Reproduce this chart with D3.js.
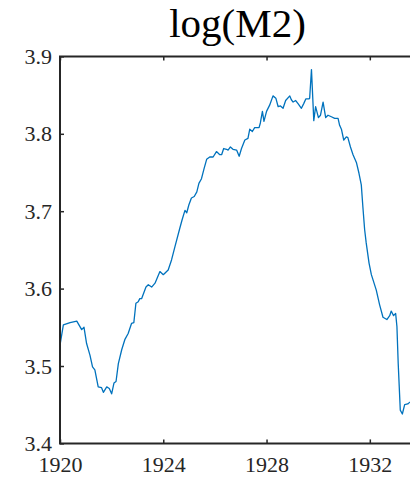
<!DOCTYPE html>
<html><head><meta charset="utf-8">
<script src="https://cdn.jsdelivr.net/npm/d3@7"></script>
<style>html,body{margin:0;padding:0;background:#fff;overflow:hidden}</style>
</head><body>
<svg id="c" width="410" height="487"></svg>
<script>
const years = [1920.00,1920.13,1920.39,1920.65,1920.84,1920.93,1921.03,1921.16,1921.26,1921.35,1921.48,1921.61,1921.68,1921.81,1921.91,1922.00,1922.09,1922.17,1922.26,1922.39,1922.51,1922.64,1922.77,1922.86,1922.94,1923.03,1923.09,1923.16,1923.33,1923.42,1923.55,1923.68,1923.87,1924.00,1924.19,1924.32,1924.45,1924.64,1924.73,1924.84,1924.91,1924.99,1925.09,1925.20,1925.30,1925.38,1925.48,1925.58,1925.68,1925.80,1925.93,1926.06,1926.19,1926.26,1926.34,1926.45,1926.51,1926.60,1926.70,1926.84,1926.94,1927.03,1927.16,1927.28,1927.35,1927.45,1927.54,1927.71,1927.76,1927.84,1927.90,1928.00,1928.12,1928.25,1928.36,1928.45,1928.54,1928.64,1928.74,1928.90,1928.96,1929.03,1929.13,1929.22,1929.35,1929.44,1929.52,1929.64,1929.67,1929.74,1929.83,1929.90,1930.01,1930.09,1930.19,1930.29,1930.38,1930.51,1930.64,1930.77,1930.83,1930.90,1930.99,1931.09,1931.15,1931.25,1931.35,1931.48,1931.58,1931.67,1931.73,1931.80,1931.86,1931.97,1932.06,1932.25,1932.38,1932.51,1932.66,1932.77,1932.83,1932.92,1933.00,1933.05,1933.10,1933.18,1933.26,1933.35,1933.47,1933.54,1933.70];
const logM2 = [3.527,3.553,3.556,3.558,3.547,3.550,3.529,3.514,3.499,3.495,3.473,3.472,3.466,3.473,3.471,3.464,3.478,3.480,3.503,3.521,3.534,3.542,3.555,3.556,3.581,3.583,3.587,3.587,3.602,3.605,3.602,3.607,3.622,3.618,3.624,3.637,3.654,3.678,3.689,3.701,3.698,3.708,3.717,3.719,3.725,3.736,3.742,3.755,3.767,3.770,3.770,3.777,3.773,3.773,3.781,3.780,3.779,3.783,3.780,3.779,3.771,3.781,3.792,3.794,3.806,3.803,3.808,3.808,3.814,3.829,3.816,3.829,3.837,3.849,3.846,3.835,3.836,3.833,3.843,3.849,3.844,3.841,3.843,3.839,3.833,3.839,3.845,3.845,3.846,3.883,3.817,3.835,3.821,3.824,3.841,3.821,3.824,3.822,3.820,3.820,3.811,3.806,3.792,3.796,3.795,3.783,3.773,3.763,3.749,3.734,3.706,3.676,3.659,3.633,3.618,3.598,3.579,3.563,3.560,3.565,3.571,3.565,3.568,3.551,3.503,3.443,3.438,3.450,3.451,3.453,3.456];
const xTicks = [1920, 1924, 1928, 1932];
const yTicks = [3.4, 3.5, 3.6, 3.7, 3.8, 3.9];
const title = "log(M2)";

const svg = d3.select("#c");
const L = 60, R = 415, T = 56.4, B = 443.4;
const x = d3.scaleLinear().domain([1920, 1933.75]).range([L, R]);
const y = d3.scaleLinear().domain([3.4, 3.9]).range([B, T]);
const axc = "#262626";
const font = "Liberation Serif";

// line
svg.append("path")
  .datum(years.map((d, i) => [d, logM2[i]]))
  .attr("fill", "none").attr("stroke", "#0072BD").attr("stroke-width", 1.3)
  .attr("stroke-linejoin", "round")
  .attr("d", d3.line().x(d => x(d[0])).y(d => y(d[1])));

function styleAxis(g, showText) {
  g.attr("font-family", font).attr("font-size", 22);
  g.select(".domain").remove();
  g.selectAll(".tick line").attr("stroke", axc).attr("stroke-width", 1.5);
  g.selectAll(".tick text").attr("fill", axc);
  if (!showText) g.selectAll(".tick text").remove();
}
// bottom
svg.append("g").attr("transform", `translate(0,${B})`)
  .call(d3.axisBottom(x).tickValues(xTicks).tickFormat(d3.format("d")).tickSizeInner(-4).tickSizeOuter(0).tickPadding(13))
  .call(g => styleAxis(g, true));
// top
svg.append("g").attr("transform", `translate(0,${T})`)
  .call(d3.axisTop(x).tickValues(xTicks).tickSizeInner(-4).tickSizeOuter(0))
  .call(g => styleAxis(g, false));
// left
svg.append("g").attr("transform", `translate(${L},0)`)
  .call(d3.axisLeft(y).tickValues(yTicks).tickFormat(d3.format(".1f")).tickSizeInner(-4).tickSizeOuter(0).tickPadding(8))
  .call(g => styleAxis(g, true));

// box lines
svg.append("path").attr("fill", "none").attr("stroke", axc).attr("stroke-width", 2)
  .attr("d", `M${R},${T}H${L}V${B}H${R}`);

svg.append("text").attr("x", (L + R) / 2).attr("y", 37).attr("text-anchor", "middle")
  .attr("font-family", font).attr("font-size", 41).attr("fill", "#000").text(title);
</script>
</body></html>
